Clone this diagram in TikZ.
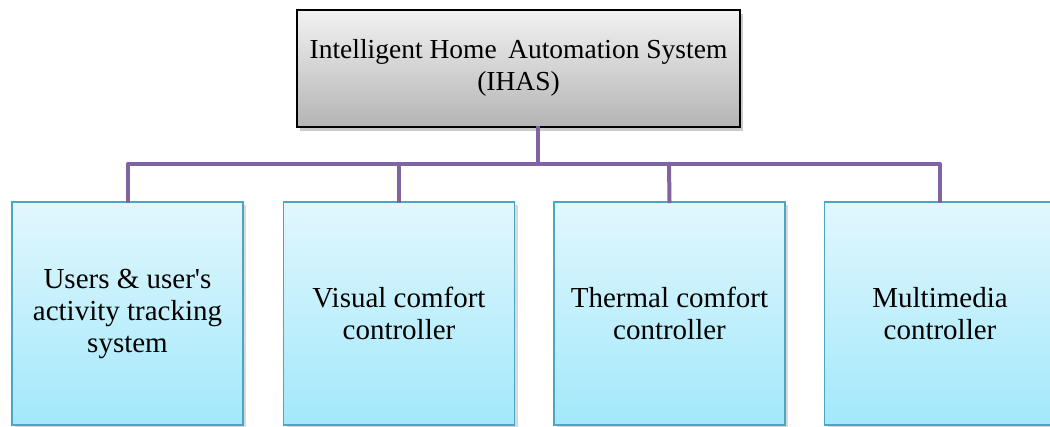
\documentclass[tikz,border=0pt]{standalone}
\usepackage{fontspec}
\setmainfont{Liberation Serif}
\usetikzlibrary{shadows}
\definecolor{linkpurple}{HTML}{8064A2}
\definecolor{boxedge}{HTML}{4BA6C2}
\definecolor{boxtop}{HTML}{E2F7FD}
\definecolor{boxbot}{HTML}{A2E8FB}
\definecolor{headtop}{HTML}{F2F2F2}
\definecolor{headbot}{HTML}{B4B4B4}
\tikzset{
  headbox/.style={draw=black, line width=1.6pt, top color=headtop, bottom color=headbot,
    minimum width=443pt, minimum height=117pt, align=center, inner sep=0pt,
    font=\fontsize{27.5}{32}\selectfont,
    drop shadow={shadow xshift=3pt, shadow yshift=-4pt, opacity=0.35, fill=black!60}},
  unitbox/.style={draw=boxedge, line width=1.6pt, top color=boxtop, bottom color=boxbot,
    minimum width=231pt, minimum height=223pt, align=center, inner sep=0pt,
    font=\fontsize{29}{32}\selectfont,
    drop shadow={shadow xshift=3pt, shadow yshift=-3pt, opacity=0.3, fill=black!50}},
  link/.style={draw=linkpurple, line width=4pt, line cap=rect}
}
\begin{document}
\begin{tikzpicture}[x=1pt,y=-1pt]
  \useasboundingbox (0,0) rectangle (1050,427);

  % bus and stems
  \coordinate (bus) at (538,164);
  \coordinate (b1) at (127.5,164);
  \coordinate (b2) at (399,164);
  \coordinate (b3) at (669,164);
  \coordinate (b4) at (940,164);

  % top level system
  \node[headbox] (ihas) at (518.5,68.5)
    {\raisebox{-3pt}{\begin{tabular}{@{}c@{}}Intelligent Home\, Automation System\\(IHAS)\end{tabular}}};

  % controller units (the last one runs past the right margin)
  \node[unitbox] (u1) at (127.5,313.5) {Users \& user\textquotesingle s\\activity tracking\\system};
  \node[unitbox] (u2) at (399,313.5) {Visual comfort\\controller};
  \node[unitbox] (u3) at (669.5,313.5) {Thermal comfort\\controller};
  \node[unitbox] (u4) at (940,313.5) {Multimedia\\controller};

  % connectors
  \draw[link] (ihas.south -| bus) -- (bus);
  \draw[link, line join=round] (u1.north) -- (b1) -- (b4) -- (u4.north);
  \draw[link] (b2) -- (u2.north);
  \draw[link] (b3) -- (u3.north);
\end{tikzpicture}
\end{document}
